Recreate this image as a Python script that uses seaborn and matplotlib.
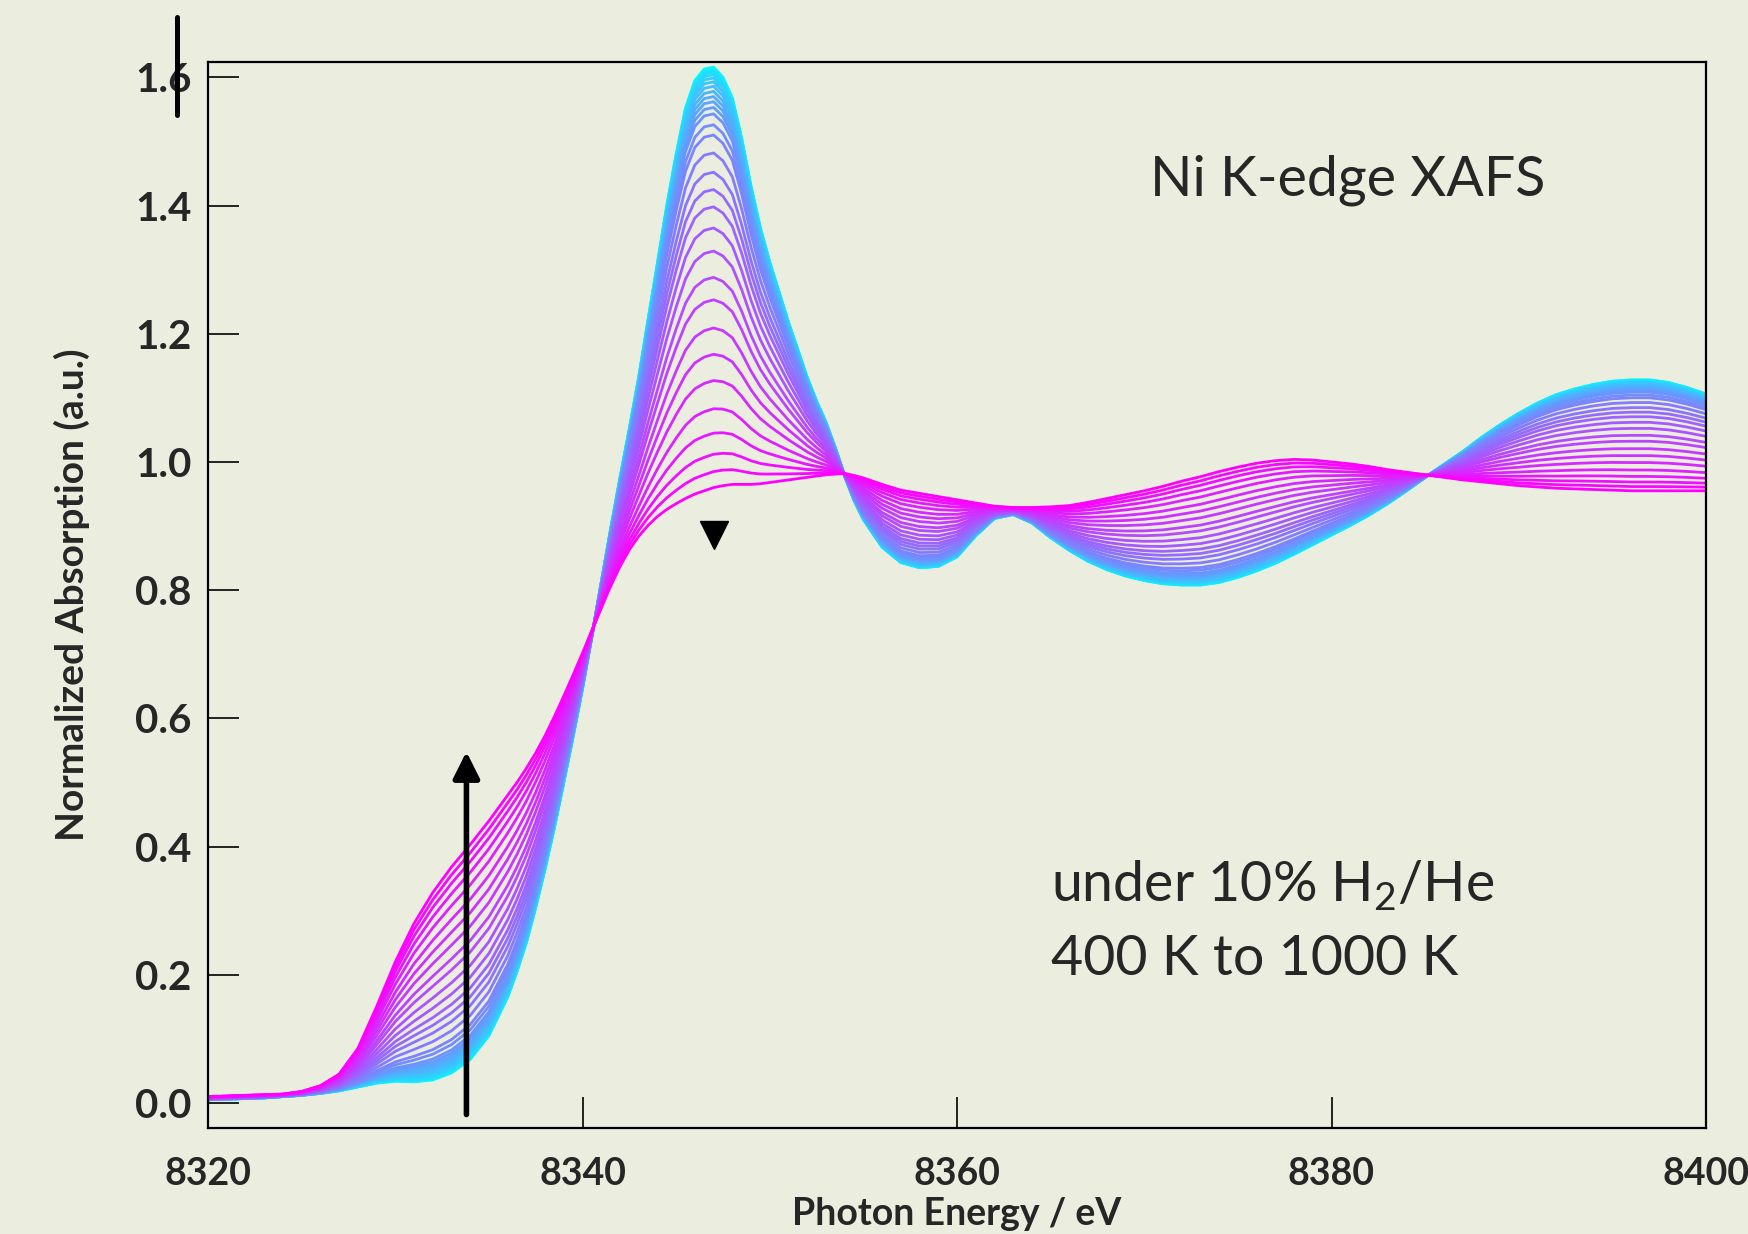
import numpy as np
import pandas as pd
import matplotlib.pyplot as plt
import seaborn as sns
from matplotlib.lines import Line2D

# photon energy grid (eV)
energy = [8320, 8321, 8322, 8323, 8324, 8325, 8326, 8327, 8328, 8329,
          8330, 8331, 8332, 8333, 8334, 8335, 8336,
          8336.5, 8337, 8337.5, 8338, 8338.5, 8339, 8339.5, 8340, 8340.5,
          8341, 8341.5, 8342, 8342.5, 8343, 8343.5, 8344, 8344.5, 8345,
          8345.5, 8346, 8346.5, 8347, 8347.5, 8348, 8348.5, 8349, 8349.5,
          8350, 8350.5, 8351, 8351.5, 8352, 8352.5, 8353, 8353.5, 8354,
          8354.5, 8355,
          8356, 8357, 8358, 8359, 8360, 8361, 8362, 8363, 8364, 8365,
          8366, 8367, 8368, 8369, 8370, 8371, 8372, 8373, 8374, 8375,
          8376, 8377, 8378, 8379, 8380, 8381, 8382, 8383, 8384, 8385,
          8386, 8387, 8388, 8389, 8390, 8391, 8392, 8393, 8394, 8395,
          8396, 8397, 8398, 8399, 8400]

# first scan (400 K, NiO-like, cyan)
mu_start = [0.005, 0.006, 0.007, 0.008, 0.010, 0.012, 0.015, 0.019, 0.025, 0.031,
            0.034, 0.033, 0.036, 0.047, 0.068, 0.105, 0.165,
            0.205, 0.250, 0.305, 0.365, 0.430, 0.500, 0.572, 0.647, 0.728,
            0.812, 0.895, 0.975, 1.052, 1.132, 1.222, 1.310, 1.400, 1.480,
            1.552, 1.595, 1.613, 1.616, 1.600, 1.568, 1.505, 1.430, 1.365,
            1.312, 1.265, 1.218, 1.175, 1.132, 1.095, 1.062, 1.022, 0.978,
            0.940, 0.910,
            0.867, 0.843, 0.835, 0.837, 0.852, 0.885, 0.912, 0.918, 0.905, 0.882,
            0.862, 0.845, 0.832, 0.822, 0.815, 0.810, 0.808, 0.808, 0.812, 0.820,
            0.830, 0.842, 0.856, 0.871, 0.886, 0.901, 0.917, 0.935, 0.955, 0.976,
            0.996, 1.016, 1.038, 1.058, 1.076, 1.092, 1.105, 1.114, 1.121, 1.126,
            1.128, 1.128, 1.124, 1.116, 1.106]

# last scan (1000 K, Ni metal-like, magenta)
mu_end = [0.010, 0.011, 0.012, 0.013, 0.014, 0.018, 0.027, 0.045, 0.085, 0.150,
          0.220, 0.280, 0.328, 0.368, 0.403, 0.440, 0.480,
          0.500, 0.522, 0.546, 0.573, 0.603, 0.635, 0.668, 0.702, 0.737,
          0.772, 0.806, 0.837, 0.863, 0.884, 0.901, 0.915, 0.926, 0.935,
          0.943, 0.950, 0.955, 0.960, 0.963, 0.965, 0.965, 0.965, 0.966,
          0.968, 0.970, 0.972, 0.974, 0.976, 0.978, 0.980, 0.981, 0.982,
          0.979, 0.975,
          0.965, 0.956, 0.951, 0.946, 0.941, 0.936, 0.931, 0.929, 0.929, 0.930,
          0.932, 0.937, 0.943, 0.949, 0.955, 0.962, 0.970, 0.977, 0.985, 0.992,
          0.998, 1.002, 1.004, 1.003, 1.000, 0.997, 0.993, 0.988, 0.984, 0.980,
          0.976, 0.972, 0.969, 0.966, 0.963, 0.961, 0.959, 0.958, 0.957, 0.956,
          0.955, 0.955, 0.955, 0.955, 0.955]

# white-line height (at 8347 eV) of every scan, 400 K -> 1000 K
white_line = [1.616, 1.615, 1.613, 1.611, 1.608, 1.604, 1.599, 1.593, 1.586, 1.578,
              1.570, 1.562, 1.553, 1.543, 1.526, 1.510, 1.482, 1.452, 1.425, 1.398,
              1.365, 1.329, 1.288, 1.253, 1.209, 1.168, 1.127, 1.083, 1.045, 1.012,
              0.985, 0.960]

arrow_energy = 8333.8
arrow_span = (-0.018, 0.548)
dip_marker = (8347.0, 0.886)

bg = '#EBEEDE'

e = np.array(energy)
a = np.array(mu_start)
b = np.array(mu_end)
ipk = energy.index(8347)

frames = []
for i, p in enumerate(white_line):
    w = (a[ipk] - p) / (a[ipk] - b[ipk])
    frames.append(pd.DataFrame({'energy': e, 'mu': a + w * (b - a), 'scan': i}))
df = pd.concat(frames, ignore_index=True)

sns.set_style('ticks')
plt.rcParams['font.family'] = ['Lato', 'DejaVu Sans']
plt.rcParams['mathtext.fontset'] = 'custom'
plt.rcParams['mathtext.rm'] = 'Lato'

fig = plt.figure(figsize=(17.48, 12.34), dpi=100)
fig.patch.set_facecolor(bg)
ax = fig.add_axes([0.119, 0.0859, 0.857, 0.8639])
ax.set_facecolor(bg)

sns.lineplot(data=df, x='energy', y='mu', hue='scan', palette='cool',
             estimator=None, sort=False, legend=False, lw=2.0, ax=ax)

ax.set_xlim(8320, 8400)
ax.set_ylim(-0.039, 1.624)
ax.set_xticks([8320, 8340, 8360, 8380, 8400])
ax.set_yticks([0.0, 0.2, 0.4, 0.6, 0.8, 1.0, 1.2, 1.4, 1.6])
ax.set_yticklabels(['%.1f' % v for v in ax.get_yticks()])
ax.tick_params(direction='in', length=22, width=1.2, color='black')
ax.tick_params(axis='x', pad=21, labelsize=27)
ax.tick_params(axis='y', pad=12, labelsize=29)
for lab in ax.get_xticklabels() + ax.get_yticklabels():
    lab.set_fontweight('bold')
for s in ax.spines.values():
    s.set_linewidth(1.6)
    s.set_color('black')
ax.set_xlabel('')
ax.set_ylabel('')

fig.text(0.5475, 0.0075, 'Photon Energy / eV', ha='center', va='baseline',
         fontsize=27, fontweight='bold')
fig.text(0.041, 0.518, 'Normalized Absorption (a.u.)', rotation=90,
         ha='center', va='center', fontsize=28, fontweight='bold')

# annotations
ax.annotate('', xy=(arrow_energy, arrow_span[1]), xytext=(arrow_energy, arrow_span[0]),
            arrowprops=dict(arrowstyle='-|>,head_width=0.4,head_length=0.8',
                            mutation_scale=20, lw=4, color='black',
                            shrinkA=0, shrinkB=0))
ax.plot([dip_marker[0]], [dip_marker[1]], marker='v', ms=20, color='black', ls='')

fig.text(0.658, 0.8412, 'Ni K-edge XAFS', fontsize=40, ha='left', va='baseline')
fig.text(0.601, 0.2699, r'under 10% H$_\mathregular{2}$/He', fontsize=40,
         ha='left', va='baseline')
fig.text(0.601, 0.2099, '400 K to 1000 K', fontsize=40, ha='left', va='baseline')

fig.add_artist(Line2D([0.1013, 0.1013], [0.9068, 0.9862], lw=3.6, color='black'))

fig.savefig('out.png', dpi=100, facecolor=bg)
